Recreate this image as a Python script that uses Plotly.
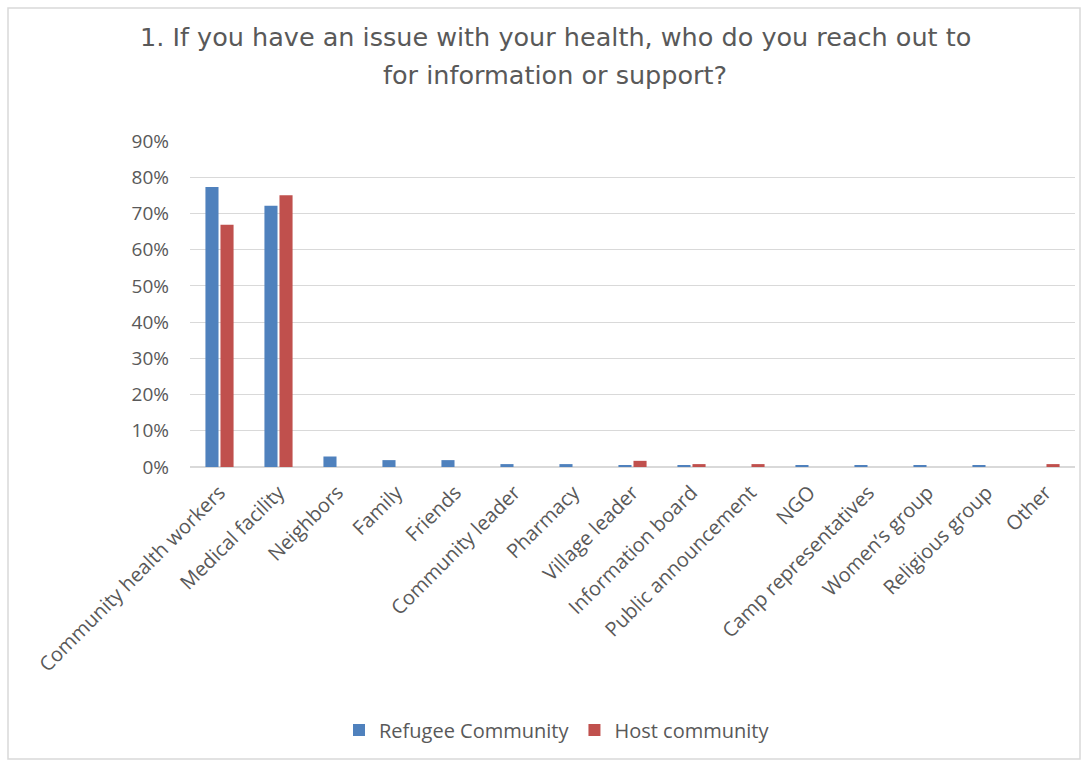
import plotly.graph_objects as go

categories = [
    "Community health workers", "Medical facility", "Neighbors", "Family", "Friends",
    "Community leader", "Pharmacy", "Village leader", "Information board",
    "Public announcement", "NGO", "Camp representatives", "Women’s group",
    "Religious group", "Other",
]
refugee = [0.773, 0.721, 0.029, 0.019, 0.019, 0.008, 0.008, 0.003, 0.003, 0.0, 0.003, 0.003, 0.003, 0.003, 0.0]
host = [0.669, 0.750, 0.0, 0.0, 0.0, 0.0, 0.0, 0.017, 0.008, 0.008, 0.0, 0.0, 0.0, 0.0, 0.008]
y_ticks = [i / 10 for i in range(10)]
title_lines = [
    "1. If you have an issue with your health, who do you reach out to",
    "for information or support?",
]

W, H = 1089, 762
L, R, T, B = 190, 14, 141, 295
pw, ph = W - L - R, H - T - B

def px_x(x):
    return (x - L) / pw

def px_y(y):
    return (H - B - y) / ph

fig = go.Figure()
fig.add_trace(go.Bar(name="Refugee Community", x=categories, y=refugee,
                     marker=dict(color="#4f81bd", line=dict(width=0))))
fig.add_trace(go.Bar(name="Host community", x=categories, y=host,
                     marker=dict(color="#c0504d", line=dict(width=0))))

base = "Open Sans, Noto Sans, sans-serif"
x_font = dict(family=base, size=20, color="#595959")
y_font = dict(family=base, size=19, color="#595959")
title_font = dict(family="DejaVu Sans, sans-serif", size=25.5, color="#595959")

# two-line chart title, each line placed on its own baseline
annotations = [
    dict(text=line, xref="paper", yref="paper", x=px_x(555), y=px_y(yc),
         xanchor="center", yanchor="middle", showarrow=False, font=title_font)
    for line, yc in zip(title_lines, [37, 75])
]

fig.update_layout(
    width=W, height=H,
    margin=dict(l=L, r=R, t=T, b=B),
    paper_bgcolor="white", plot_bgcolor="white",
    barmode="group", bargap=0.49, bargroupgap=0.13,
    annotations=annotations,
    xaxis=dict(
        tickangle=-45, tickfont=x_font, showgrid=False, showline=False,
        ticks="", automargin=False, ticklabelstandoff=9,
    ),
    yaxis=dict(
        range=[0, 0.9], tickvals=y_ticks, tickformat=".0%", tickfont=y_font,
        showgrid=True, gridcolor="#d9d9d9", gridwidth=1, zeroline=True,
        zerolinecolor="#d9d9d9", zerolinewidth=2, showline=False, ticks="",
        ticklabelstandoff=20, automargin=False,
    ),
    legend=dict(
        orientation="h", x=px_x(557), xanchor="center", y=px_y(730), yanchor="middle",
        font=dict(family=base, size=20, color="#595959"),
        itemsizing="constant", traceorder="normal", itemwidth=30,
    ),
    shapes=[dict(
        type="rect", xref="paper", yref="paper",
        x0=px_x(8), x1=px_x(1080), y0=px_y(8), y1=px_y(759),
        line=dict(color="#d9d9d9", width=1.5), fillcolor="rgba(0,0,0,0)", layer="below",
    )],
)

fig.write_html("out.html")
